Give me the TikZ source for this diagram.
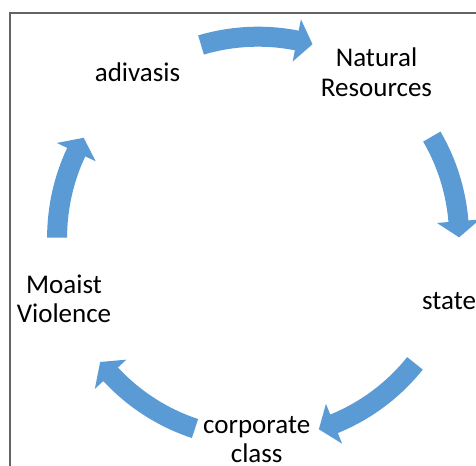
\documentclass[tikz,border=0pt]{standalone}
\usepackage{fontspec}
\setmainfont{Carlito}
\definecolor{arrowblue}{RGB}{91,155,213}
\definecolor{framegray}{RGB}{100,100,100}
% curved block arrow on the cycle circle, running clockwise from tail angle #1 to tip angle #2
\newcommand\cyclearrow[2]{%
  \pgfmathsetmacro\headback{#2+4.6}%
  \fill[cyclearrowfill] (#1:211) arc[start angle=#1, end angle=\headback, radius=211]
    -- (\headback:222.5) -- (#2:201) -- (\headback:179.5) -- (\headback:191)
    arc[start angle=\headback, end angle=#1, radius=191] -- cycle;}
\begin{document}
\begin{tikzpicture}[x=1bp, y=1bp,
  cyclelabel/.style={font=\fontsize{27bp}{29.5bp}\selectfont, inner sep=0pt, align=center, text=black},
  cyclearrowfill/.style={fill=arrowblue}]
\useasboundingbox (0,0) rectangle (476,466);
\clip (0,0) rectangle (476,466);
\fill[white] (0,0) rectangle (476,466);
% frame
\draw[framegray, line width=1.4bp] (10,-10) -- (10,453) -- (490,453);
% labels (base anchor of a two-line label sits on its last line)
\node[cyclelabel, anchor=base] (adivasis) at (137.5,384.3) {adivasis};
\node[cyclelabel, anchor=base] (resources) at (376.5,369.5) {Natural\\Resources};
\node[cyclelabel, anchor=base west] (state) at (422,156) {state};
\node[cyclelabel, anchor=base] (corporate) at (256.7,3) {corporate\\class};
\node[cyclelabel, anchor=base] (maoist) at (64,143) {Moaist\\Violence};
% arrows around the cycle
\begin{scope}[shift={(258.1,228.3)}]
  \cyclearrow{106.5}{74.3}
  \cyclearrow{30.2}{0.1}
  \cyclearrow{-38.7}{-72.4}
  \cyclearrow{251.7}{218.2}
  \cyclearrow{180}{150.2}
\end{scope}
\end{tikzpicture}
\end{document}
